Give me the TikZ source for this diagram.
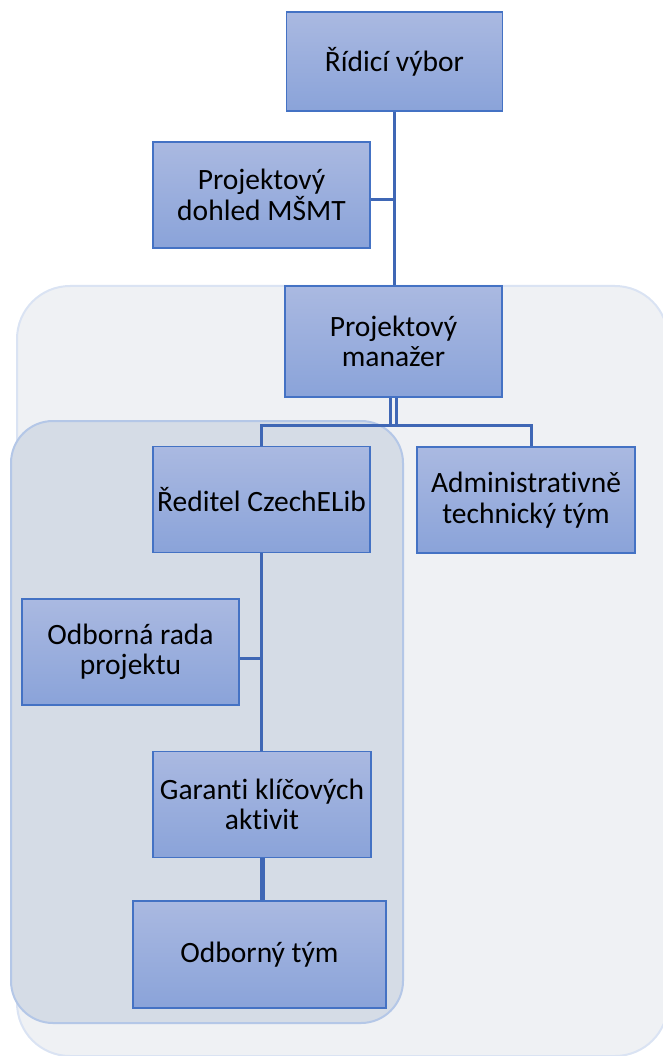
\documentclass[tikz,border=0pt]{standalone}
\usepackage{fontspec}
\setmainfont{Carlito}[Ligatures={NoCommon}]
\definecolor{linec}{HTML}{3F67B5}
\definecolor{boxline}{HTML}{4472C4}
\definecolor{boxtop}{HTML}{AAB9E1}
\definecolor{boxbot}{HTML}{8AA3D9}
\definecolor{outerfill}{HTML}{EFF1F4}
\definecolor{outerdraw}{HTML}{DAE3F3}
\definecolor{innerfill}{HTML}{D5DCE6}
\definecolor{innerdraw}{HTML}{B4C7E7}
\tikzset{
  unit/.style={draw=boxline, line width=1.4pt, top color=boxtop, bottom color=boxbot,
    minimum width=217pt, minimum height=106pt, align=center, inner sep=0pt,
    font=\fontsize{29.5}{30.5}\selectfont},
  conn/.style={draw=linec, line width=3pt},
  thin/.style={draw=linec, line width=2.2pt},
  thick/.style={draw=linec, line width=5pt},
  grp/.style={line width=2pt}
}
\begin{document}
\begin{tikzpicture}[x=1pt,y=-1pt]
\useasboundingbox (0,0) rectangle (662,1056);
% group backgrounds
\path[grp, fill=outerfill, draw=outerdraw, rounded corners=53pt] (17,286) rectangle (668,1056);
\path[grp, fill=innerfill, draw=innerdraw, rounded corners=42pt] (11,421) rectangle (403,1023);
% boxes
\node[unit, minimum width=216pt, minimum height=99pt] (A) at (394.5,61.5) {Řídicí výbor};
\node[unit] (B) at (261.5,195) {Projektový\\dohled MŠMT};
\node[unit, minimum height=111pt] (C) at (393.5,341.5) {Projektový\\manažer};
\node[unit] (D) at (261.5,499.5) {Ředitel CzechELib};
\node[unit, minimum width=218pt] (E) at (526,500) {Administrativně\\technický tým};
\node[unit] (F) at (130.5,652) {Odborná rada\\projektu};
\node[unit, minimum width=218pt] (G) at (262,804.5) {Garanti klíčových\\aktivit};
\node[unit, minimum width=253pt, minimum height=107pt] (H) at (259.5,954.5) {Odborný tým};
% connectors
\coordinate (bar) at (0,425);
\coordinate (bB) at (0,200);
\coordinate (bF) at (0,658);
\draw[conn] (A.south -| 394,0) -- (C.north -| 394,0);
\draw[conn] (B.east |- bB) -- (bB -| 394,0);
\draw[thin] ([xshift=-3pt]C.south) -- ([xshift=-3pt]C.south |- bar);
\draw[thin] ([xshift=3pt]C.south) -- ([xshift=3pt]C.south |- bar);
\draw[conn] (D.north) -- (D.north |- bar) -- (bar -| 531,0) -- (E.north -| 531,0);
\draw[conn] (D.south) -- (G.north -| D.south);
\draw[conn] (F.east |- bF) -- (bF -| D.south);
\draw[thick] (G.south -| 262,0) -- (H.north -| 262,0);
\end{tikzpicture}
\end{document}
